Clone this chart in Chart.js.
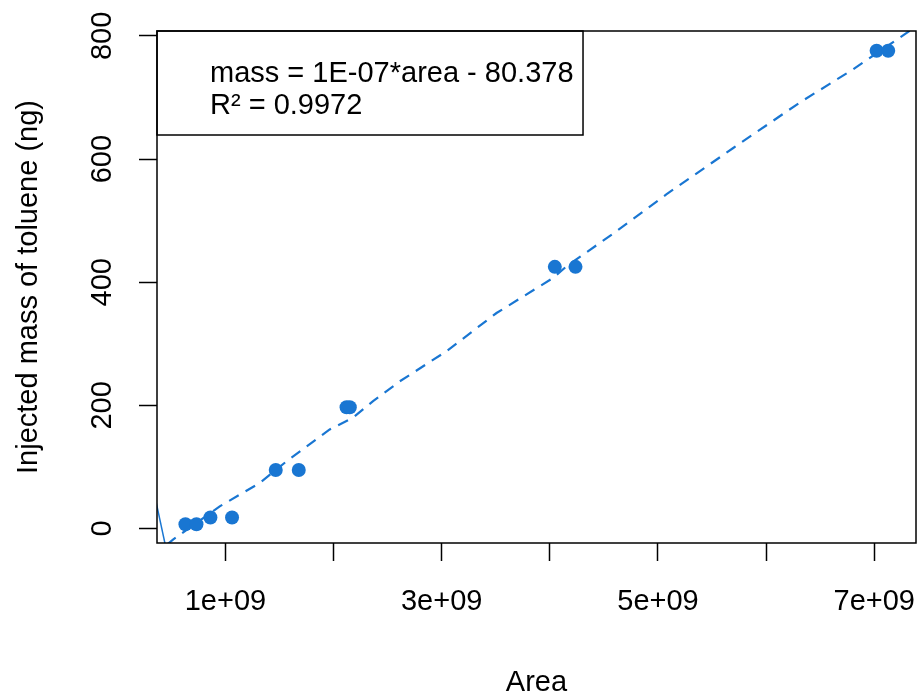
<!DOCTYPE html>
<html>
<head>
<meta charset="utf-8">
<title>Toluene calibration</title>
<script src="https://cdn.jsdelivr.net/npm/chart.js@4.4.1/dist/chart.umd.min.js"></script>
<style>
    html, body { margin: 0; padding: 0; background: #fff; }
    canvas { display: block; }
</style>
</head>
<body>
<canvas id="calib" width="923" height="697"></canvas>
<script>
// measured standards: peak area vs injected toluene mass (ng)
const areaValues = [0.63e9, 0.732e9, 0.861e9, 1.061e9, 1.465e9, 1.678e9, 2.12e9, 2.15e9, 4.046e9, 4.237e9, 7.022e9, 7.129e9];
const massValues = [7, 7, 18, 18, 95, 95, 197, 197, 425, 425, 776, 776];

// smoothed calibration curve (dashed)
const fitArea = [0.46e9, 0.515e9, 0.947e9, 1.317e9, 1.564e9, 1.964e9, 2.18e9, 2.365e9, 2.612e9, 3.044e9, 3.507e9, 4.031e9, 4.155e9, 4.586e9, 5.08e9, 5.696e9, 6.313e9, 6.806e9, 7.3e9, 7.36e9];
const fitMass = [-26, -18, 36, 74, 109, 161, 180, 207, 239, 288, 350, 407, 426, 479, 543, 618, 692, 746, 805, 812];

// straight reference line, mostly outside the plotted range
const refArea = [0.30e9, 0.46e9];
const refMass = [91, -40];

const xTicks = [1e9, 2e9, 3e9, 4e9, 5e9, 6e9, 7e9];
const xTickLabels = ['1e+09', '', '3e+09', '', '5e+09', '', '7e+09'];
const yTicks = [0, 200, 400, 600, 800];
const yTickLabels = ['0', '200', '400', '600', '800'];

const legendLines = ['mass = 1E-07*area - 80.378', 'R\u00b2 = 0.9972'];

const BLUE = '#1976d2';
const FONT = 'Liberation Sans, Arial, Helvetica, sans-serif';
const FONT_SIZE = 29;

const toXY = (xs, ys) => xs.map((x, i) => ({ x: x, y: ys[i] }));

// box around the plot region plus the equation legend in the top-left corner
const framePlugin = {
    id: 'frame',
    afterDraw(chart) {
        const { ctx, chartArea } = chart;
        ctx.save();
        ctx.strokeStyle = '#000';
        ctx.lineWidth = 1.5;
        ctx.strokeRect(chartArea.left, chartArea.top,
            chartArea.right - chartArea.left, chartArea.bottom - chartArea.top);

        ctx.font = `${FONT_SIZE}px ${FONT}`;
        ctx.fillStyle = '#000';
        ctx.textBaseline = 'alphabetic';
        const textX = chartArea.left + 53;
        const widest = Math.max(...legendLines.map(t => ctx.measureText(t).width));
        legendLines.forEach((t, i) => {
            ctx.fillText(t, textX, chartArea.top + 51 + i * 31.5);
        });
        ctx.strokeRect(chartArea.left, chartArea.top, textX + widest + 9.5 - chartArea.left, 104);
        ctx.restore();
    }
};

new Chart(document.getElementById('calib'), {
    type: 'scatter',
    data: {
        datasets: [
            {
                label: 'standards',
                data: toXY(areaValues, massValues),
                backgroundColor: BLUE,
                borderColor: BLUE,
                pointRadius: 7,
                pointBorderWidth: 0,
                showLine: false
            },
            {
                label: 'fit',
                data: toXY(fitArea, fitMass),
                borderColor: BLUE,
                borderWidth: 2.2,
                borderDash: [11, 8],
                pointRadius: 0,
                showLine: true,
                tension: 0
            },
            {
                label: 'reference',
                data: toXY(refArea, refMass),
                borderColor: BLUE,
                borderWidth: 1.5,
                pointRadius: 0,
                showLine: true
            }
        ]
    },
    options: {
        responsive: false,
        animation: false,
        events: [],
        layout: { padding: { left: 0, top: 31, right: 7, bottom: 0 } },
        plugins: {
            legend: { display: false },
            tooltip: { enabled: false }
        },
        scales: {
            x: {
                type: 'linear',
                min: 0.367e9,
                max: 7.386e9,
                afterBuildTicks: (scale) => { scale.ticks = xTicks.map(v => ({ value: v })); },
                afterFit: (scale) => {
                    scale.height = 154;
                    // labels fit inside the margin already, no extra side padding
                    scale.paddingLeft = 0;
                    scale.paddingRight = 0;
                },
                ticks: {
                    autoSkip: false,
                    maxRotation: 0,
                    padding: 24,
                    color: '#000',
                    font: { family: FONT, size: FONT_SIZE },
                    callback: (value, index) => xTickLabels[index]
                },
                grid: {
                    drawOnChartArea: false,
                    tickLength: 18,
                    tickColor: '#000',
                    tickWidth: 1.5
                },
                border: { display: false },
                title: {
                    display: true,
                    text: 'Area',
                    color: '#000',
                    font: { family: FONT, size: FONT_SIZE, lineHeight: 1 },
                    padding: { top: 0, bottom: 0 }
                }
            },
            y: {
                type: 'linear',
                min: -23.5,
                max: 808,
                afterBuildTicks: (scale) => { scale.ticks = yTicks.map(v => ({ value: v })); },
                afterFit: (scale) => {
                    scale.width = 157;
                    scale.paddingTop = 0;
                    scale.paddingBottom = 0;
                },
                ticks: {
                    minRotation: 90,
                    maxRotation: 90,
                    crossAlign: 'center',
                    padding: 12,
                    color: '#000',
                    font: { family: FONT, size: FONT_SIZE },
                    callback: (value, index) => yTickLabels[index]
                },
                grid: {
                    drawOnChartArea: false,
                    tickLength: 18,
                    tickColor: '#000',
                    tickWidth: 1.5
                },
                border: { display: false },
                title: {
                    display: true,
                    text: 'Injected mass of toluene (ng)',
                    color: '#000',
                    font: { family: FONT, size: FONT_SIZE, lineHeight: 1 },
                    padding: { top: 14, bottom: 0 }
                }
            }
        }
    },
    plugins: [framePlugin]
});
</script>
</body>
</html>
